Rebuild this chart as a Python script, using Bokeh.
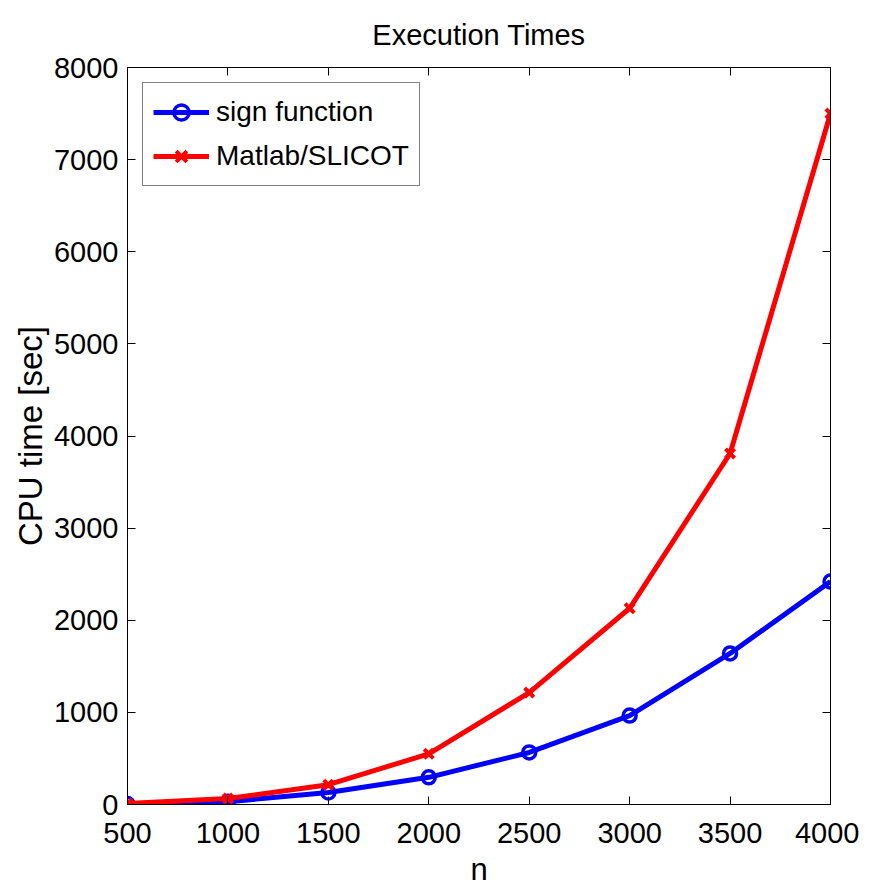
from bokeh.plotting import figure
from bokeh.models import (Range1d, FixedTicker, LinearAxis, Legend, LegendItem)
from bokeh.embed import file_html
from bokeh.resources import INLINE

n_values = [500, 1000, 1500, 2000, 2500, 3000, 3500, 4000]
sign_function = [5, 30, 130, 295, 565, 965, 1640, 2420]
matlab_slicot = [10, 65, 215, 550, 1215, 2130, 3810, 7500]
x_ticks = [500, 1000, 1500, 2000, 2500, 3000, 3500, 4000]
y_ticks = [0, 1000, 2000, 3000, 4000, 5000, 6000, 7000, 8000]
title_text = "Execution Times"

FONT = "Liberation Sans"

p = figure(frame_width=703, frame_height=737,
           min_border_left=127, min_border_right=29,
           min_border_top=67, min_border_bottom=81,
           x_range=Range1d(500, 4000), y_range=Range1d(0, 8000),
           output_backend="svg", toolbar_location=None,
           title=title_text)

p.title.align = "center"
p.title.text_font = FONT
p.title.text_font_size = "29px"
p.title.text_font_style = "normal"
p.title.text_color = "black"
p.title.standoff = 33

p.xgrid.visible = False
p.ygrid.visible = False
p.outline_line_color = "black"
p.outline_line_width = 1
p.background_fill_color = "white"
p.border_fill_color = "white"

for ax in p.xaxis:
    ax.ticker = FixedTicker(ticks=x_ticks)
    ax.axis_label = "n"
for ax in p.yaxis:
    ax.ticker = FixedTicker(ticks=y_ticks)
    ax.axis_label = "CPU time [sec]"

for ax in list(p.xaxis) + list(p.yaxis):
    ax.major_tick_in = 8
    ax.major_tick_out = 0
    ax.minor_tick_line_color = None
    ax.axis_line_color = "black"
    ax.major_tick_line_color = "black"
    ax.major_label_text_font = FONT
    ax.major_label_text_font_size = "29px"
    ax.major_label_text_color = "black"
    ax.axis_label_text_font = FONT
    ax.axis_label_text_font_style = "normal"
    ax.axis_label_text_color = "black"

p.xaxis.major_label_standoff = 18
p.xaxis.axis_label_text_font_size = "31px"
p.xaxis.axis_label_standoff = 6
p.yaxis.major_label_standoff = 9
p.yaxis.axis_label_text_font_size = "33px"
p.yaxis.axis_label_standoff = 2

top = LinearAxis(ticker=FixedTicker(ticks=x_ticks), major_label_text_font_size="0px",
                 major_tick_in=8, major_tick_out=0, minor_tick_line_color=None,
                 axis_line_color="black", major_label_text_color=None)
right = LinearAxis(ticker=FixedTicker(ticks=y_ticks), major_label_text_font_size="0px",
                   major_tick_in=8, major_tick_out=0, minor_tick_line_color=None,
                   axis_line_color="black", major_label_text_color=None)
p.add_layout(top, "above")
p.add_layout(right, "right")

bl = p.line(n_values, sign_function, line_color="#0000ff", line_width=5)
bs = p.scatter(n_values, sign_function, marker="circle", size=13,
               fill_color=None, line_color="#0000ff", line_width=3.5)
rl = p.line(n_values, matlab_slicot, line_color="#ff0000", line_width=5)
rs = p.scatter(n_values, matlab_slicot, marker="x", size=13,
               line_color="#ff0000", line_width=4)

legend = Legend(items=[LegendItem(label="sign function", renderers=[bl, bs]),
                       LegendItem(label="Matlab/SLICOT", renderers=[rl, rs])],
                location="top_left")
legend.margin = 15
legend.padding = 10
legend.spacing = 6
legend.glyph_width = 56
legend.glyph_height = 38
legend.label_height = 38
legend.label_standoff = 7
legend.label_text_font = FONT
legend.label_text_font_size = "28px"
legend.label_text_color = "black"
legend.border_line_color = "black"
legend.border_line_width = 1
legend.background_fill_alpha = 1
p.add_layout(legend, "center")

open("out.html", "w").write(file_html(p, INLINE))
